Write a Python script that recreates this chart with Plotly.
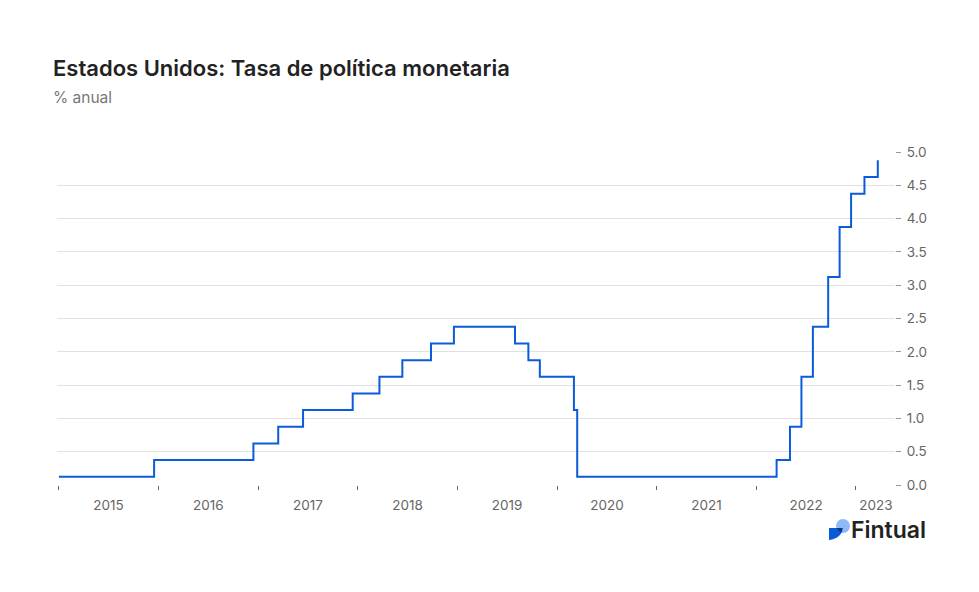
import plotly.graph_objects as go

# Data: Fed funds target range midpoint (% anual), change dates
change_dates = ["2015-01-01", "2015-12-16", "2016-12-14", "2017-03-15", "2017-06-14",
                "2017-12-13", "2018-03-21", "2018-06-13", "2018-09-26", "2018-12-19",
                "2019-07-31", "2019-09-18", "2019-10-30", "2020-03-03", "2020-03-15",
                "2022-03-16", "2022-05-04", "2022-06-15", "2022-07-27", "2022-09-21",
                "2022-11-02", "2022-12-14", "2023-02-01", "2023-03-22"]
rates = [0.125, 0.375, 0.625, 0.875, 1.125,
         1.375, 1.625, 1.875, 2.125, 2.375,
         2.125, 1.875, 1.625, 1.125, 0.125,
         0.375, 0.875, 1.625, 2.375, 3.125,
         3.875, 4.375, 4.625, 4.875]

year_ticks = ["2015-01-01", "2016-01-01", "2017-01-01", "2018-01-01", "2019-01-01",
              "2020-01-01", "2021-01-01", "2022-01-01", "2023-01-01"]
year_label_pos = ["2015-07-02", "2016-07-02", "2017-07-02", "2018-07-02", "2019-07-02",
                  "2020-07-02", "2021-07-02", "2022-07-02", "2023-03-15"]
year_labels = ["2015", "2016", "2017", "2018", "2019", "2020", "2021", "2022", "2023"]

y_ticks = [0, 0.5, 1, 1.5, 2, 2.5, 3, 3.5, 4, 4.5, 5]

W, H = 979, 592
L, R, T, B = 57, 895, 152, 485

def px(x):
    return (x - L) / (R - L)

def py(y):
    return (B - y) / (B - T)

FONT = "Inter, Lato, sans-serif"

fig = go.Figure()
fig.add_trace(go.Scatter(
    x=change_dates, y=rates, mode="lines", line_shape="hv",
    line=dict(color="#0a5cd8", width=2), hoverinfo="x+y", showlegend=False))

fig.update_layout(
    width=W, height=H,
    margin=dict(l=L, r=W - R, t=T, b=H - B),
    paper_bgcolor="white", plot_bgcolor="white",
    font=dict(family=FONT, color="#666"),
    xaxis=dict(
        type="date", range=["2014-12-25", "2023-05-24"],
        tickmode="array", tickvals=year_label_pos, ticktext=year_labels,
        ticks="", showgrid=False, zeroline=False, showline=False,
        tickfont=dict(size=13.5, color="#666"), ticklabelstandoff=10,
        minor=dict(tickmode="array", tickvals=year_ticks, ticks="outside",
                   ticklen=4, tickcolor="#666", tickwidth=1, showgrid=False),
    ),
    yaxis=dict(
        side="right", range=[0, 5], tickmode="array", tickvals=y_ticks,
        tickformat=".1f", ticks="outside", ticklen=5, tickcolor="#999",
        tickwidth=1, showgrid=True, gridcolor="#e1e1e1", gridwidth=1,
        zeroline=False, showline=False,
        tickfont=dict(size=13.5, color="#666"), ticklabelstandoff=3,
    ),
)

# Title and subtitle
fig.add_annotation(text="Estados Unidos: Tasa de política monetaria",
                   xref="paper", yref="paper", x=px(51), y=py(68),
                   xanchor="left", yanchor="middle", showarrow=False,
                   font=dict(size=22, color="#222", family=FONT, weight=600))
fig.add_annotation(text="% anual", xref="paper", yref="paper", x=px(51), y=py(97),
                   xanchor="left", yanchor="middle", showarrow=False,
                   font=dict(size=15.5, color="#777", family=FONT))

# Fintual logo
fig.add_annotation(text="Fintual", xref="paper", yref="paper", x=px(849), y=py(530),
                   xanchor="left", yanchor="middle", showarrow=False,
                   font=dict(size=23, color="#222", family=FONT, weight=600))
fig.add_shape(type="circle", xref="paper", yref="paper",
              x0=px(836), x1=px(850), y0=py(533), y1=py(519),
              fillcolor="#8fb9f5", line=dict(width=0))
blue_path = (f"M {px(829)},{py(528)} L {px(842.5)},{py(528)} "
             f"Q {px(842)},{py(538)} {px(829)},{py(540)} Z")
fig.add_shape(type="path", xref="paper", yref="paper", path=blue_path,
              fillcolor="#0b5bd6", line=dict(width=0))
dark_path = (f"M {px(836.5)},{py(528)} L {px(842.5)},{py(528)} "
             f"Q {px(842.5)},{py(531)} {px(841.5)},{py(532.5)} Q {px(838)},{py(531.5)} {px(836.5)},{py(528)} Z")
fig.add_shape(type="path", xref="paper", yref="paper", path=dark_path,
              fillcolor="#0a3a8f", line=dict(width=0))

fig.write_html("out.html", config={"displayModeBar": False})

# remove the browser's default body margin so the figure sits at (0, 0)
with open("out.html", "r", encoding="utf-8") as f:
    html = f.read()
html = html.replace("<body>", '<body style="margin:0;padding:0">', 1)
with open("out.html", "w", encoding="utf-8") as f:
    f.write(html)
